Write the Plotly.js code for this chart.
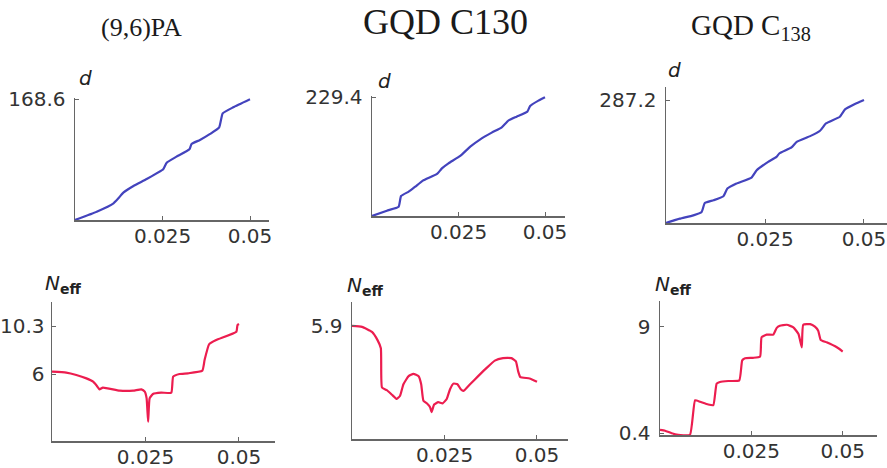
<!DOCTYPE html>
<html>
<head>
<meta charset="utf-8">
<script src="https://cdn.plot.ly/plotly-3.0.1.min.js"></script>
<style>html,body{margin:0;padding:0;background:#fff;}#chart{width:887px;height:468px;}</style>
</head>
<body>
<div id="chart"></div>
<script>
// ---- data ----
const titles = ["(9,6)PA", "GQD C130", "GQD C<sub>138</sub>"];

const pa_x = [0, 0.0062, 0.011, 0.0124, 0.0138, 0.0167, 0.0205, 0.0252, 0.0262, 0.029, 0.0327, 0.0333, 0.0357, 0.0386, 0.0412, 0.0422, 0.0452, 0.05];
const pa_d = [0, 11.6, 23.3, 30.3, 38.2, 47.5, 57.3, 70.8, 80.1, 88.5, 98.7, 106.2, 111.8, 120.2, 129.5, 149.0, 157.4, 168.6];

const c130_x = [0, 0.0043, 0.0077, 0.0084, 0.0106, 0.0125, 0.0147, 0.0188, 0.0202, 0.0221, 0.0255, 0.0284, 0.0313, 0.0346, 0.0375, 0.0394, 0.0418, 0.0449, 0.0457, 0.0481, 0.05];
const c130_d = [0, 10.3, 18.0, 38.7, 47.0, 56.7, 68.3, 81.2, 92.1, 101.8, 116.0, 134.0, 148.2, 161.1, 171.4, 184.3, 192.0, 201.7, 212.6, 223.0, 229.4];

const c138_x = [0, 0.0035, 0.0069, 0.009, 0.0098, 0.012, 0.0145, 0.0155, 0.0178, 0.0216, 0.0229, 0.0258, 0.0279, 0.0286, 0.0317, 0.033, 0.0364, 0.0389, 0.0404, 0.0439, 0.0452, 0.0477, 0.05];
const c138_d = [0, 10.1, 17.9, 25.8, 46.8, 53.1, 62.4, 80.4, 92.1, 106.1, 123.3, 142.8, 154.5, 162.3, 176.4, 189.6, 202.9, 215.4, 232.6, 248.2, 265.3, 277.8, 287.2];

const pa_nx = [0, 0.0038, 0.0065, 0.0092, 0.011, 0.012, 0.0127, 0.0136, 0.0181, 0.0217, 0.0239, 0.0248, 0.0253, 0.0257, 0.0261, 0.027, 0.0292, 0.0319, 0.0324, 0.0341, 0.0364, 0.0402, 0.0408, 0.042, 0.0439, 0.0493, 0.0496, 0.05];
const pa_n  = [6.21, 6.12, 5.91, 5.61, 5.31, 4.93, 4.63, 4.78, 4.51, 4.51, 4.63, 4.42, 3.82, 1.73, 3.82, 4.21, 4.33, 4.33, 5.76, 6.0, 6.06, 6.3, 7.25, 8.66, 9.04, 9.79, 10.39, 10.48];

const c130_nx = [0, 0.0027, 0.0054, 0.0069, 0.0078, 0.0081, 0.0094, 0.0108, 0.0121, 0.013, 0.0139, 0.0153, 0.0166, 0.018, 0.0187, 0.0193, 0.0204, 0.0211, 0.0215, 0.0222, 0.0233, 0.0245, 0.0256, 0.0265, 0.0274, 0.0285, 0.0294, 0.0301, 0.0319, 0.0341, 0.0364, 0.0386, 0.0408, 0.0431, 0.0443, 0.0449, 0.0455, 0.048, 0.05];
const c130_n  = [5.9, 5.85, 5.59, 5.16, 4.74, 2.69, 2.55, 2.31, 2.09, 2.26, 2.86, 3.28, 3.40, 3.28, 2.86, 2.0, 1.83, 1.66, 1.40, 1.80, 1.92, 1.86, 2.09, 2.60, 2.89, 2.86, 2.60, 2.51, 2.86, 3.28, 3.71, 4.09, 4.22, 4.22, 4.05, 3.54, 3.23, 3.16, 2.99];

const c138_nx = [0, 0.0014, 0.0032, 0.005, 0.0082, 0.0096, 0.011, 0.0132, 0.0146, 0.0155, 0.0164, 0.0187, 0.0217, 0.0225, 0.0233, 0.0255, 0.0274, 0.0278, 0.0292, 0.031, 0.0319, 0.0328, 0.0347, 0.0365, 0.0379, 0.0388, 0.0392, 0.0411, 0.0424, 0.0433, 0.044, 0.0456, 0.0484, 0.05];
const c138_n  = [0.67, 0.61, 0.4, 0.28, 0.28, 3.07, 2.94, 2.72, 2.67, 4.41, 4.54, 4.62, 4.67, 6.28, 6.46, 6.49, 6.60, 8.15, 8.36, 8.36, 8.89, 9.08, 9.16, 8.95, 8.41, 7.34, 9.16, 9.21, 9.0, 8.68, 7.93, 7.74, 7.34, 7.0];

const xTickVals = [0.025, 0.05];
const xTickText = ["0.025", "0.05"];
const yTicks = [[168.6], [229.4], [287.2], [6, 10.3], [5.9], [0.4, 9]];
const yTickText = [["168.6"], ["229.4"], ["287.2"], ["6", "10.3"], ["5.9"], ["0.4", "9"]];

// ---- layout helpers ----
const W = 887, H = 468;
const px = v => v / W;
const py = v => 1 - v / H;

const panels = [
  {xd: [75, 269],  yd: [98, 220],   xr: [0, 0.05543], yr: [0, 170.4]},
  {xd: [372, 565], yd: [96, 216],   xr: [0, 0.05578], yr: [0, 231.9]},
  {xd: [666, 887], yd: [87, 223],   xr: [0, 0.05581], yr: [0, 317.6]},
  {xd: [52, 275],  yd: [302, 441],  xr: [0, 0.05963], yr: [0, 12.45]},
  {xd: [352, 568], yd: [302, 439],  xr: [0, 0.05838], yr: [0, 7.15]},
  {xd: [660, 877], yd: [300.7, 435], xr: [0, 0.05939], yr: [0.263, 11.1]}
];

const series = [
  [pa_x, pa_d], [c130_x, c130_d], [c138_x, c138_d],
  [pa_nx, pa_n], [c130_nx, c130_n], [c138_nx, c138_n]
];
const BLUE = "#4343bd", RED = "#ec1d4f", AX = "#666";
const tickFont = {family: "DejaVu Sans", size: 20, color: "#333"};

const data = [];
const layout = {
  width: W, height: H,
  margin: {l: 0, r: 0, t: 0, b: 0},
  paper_bgcolor: "#fff", plot_bgcolor: "rgba(0,0,0,0)",
  showlegend: false,
  annotations: []
};

series.forEach((s, i) => {
  const n = i + 1;
  const xa = "x" + (n === 1 ? "" : n), ya = "y" + (n === 1 ? "" : n);
  data.push({
    x: s[0], y: s[1], xaxis: xa, yaxis: ya, type: "scatter", mode: "lines",
    line: {color: i < 3 ? BLUE : RED, width: 2.2, shape: "spline", smoothing: 0.4},
    hoverinfo: "skip"
  });
  const p = panels[i];
  layout["xaxis" + (n === 1 ? "" : n)] = {
    domain: [px(p.xd[0]), px(p.xd[1])], range: p.xr, anchor: ya,
    showgrid: false, zeroline: false, showline: true, linecolor: AX, linewidth: 1.5,
    ticks: "inside", ticklen: 4, tickwidth: 1, tickcolor: AX,
    tickmode: "array", tickvals: xTickVals, ticktext: xTickText, tickfont: tickFont,
    ticklabelstandoff: -3, fixedrange: true
  };
  layout["yaxis" + (n === 1 ? "" : n)] = {
    domain: [py(p.yd[1]), py(p.yd[0])], range: p.yr, anchor: xa,
    showgrid: false, zeroline: false, showline: true, linecolor: AX, linewidth: 1.5,
    ticks: "inside", ticklen: 4, tickwidth: 1, tickcolor: AX,
    tickmode: "array", tickvals: yTicks[i], ticktext: yTickText[i], tickfont: tickFont,
    ticklabelstandoff: i === 3 ? 2 : 4, fixedrange: true
  };
});

// titles
const titlePos = [[141, 27, 26], [445, 22, 36], [751, 27, 29]];
titles.forEach((t, i) => {
  layout.annotations.push({
    text: t, xref: "paper", yref: "paper", x: px(titlePos[i][0]), y: py(titlePos[i][1]),
    xanchor: "center", yanchor: "middle", showarrow: false,
    font: {family: "Liberation Serif", size: titlePos[i][2], color: "#1a1a1a"}
  });
});

// axis variable labels
const dPos = [[85, 78], [384, 81], [674, 70]];
dPos.forEach(p => layout.annotations.push({
  text: "<i>d</i>", xref: "paper", yref: "paper", x: px(p[0]), y: py(p[1]),
  xanchor: "center", yanchor: "middle", showarrow: false,
  font: {family: "DejaVu Sans", size: 20, color: "#222"}
}));
const nPos = [[43, 284], [345, 286], [653, 285]];
nPos.forEach(p => layout.annotations.push({
  text: "<i>N</i><sub><b>eff</b></sub>", xref: "paper", yref: "paper", x: px(p[0]), y: py(p[1]),
  xanchor: "left", yanchor: "middle", showarrow: false,
  font: {family: "DejaVu Sans", size: 20, color: "#222"}
}));

Plotly.newPlot("chart", data, layout, {staticPlot: true, displayModeBar: false});
</script>
</body>
</html>
